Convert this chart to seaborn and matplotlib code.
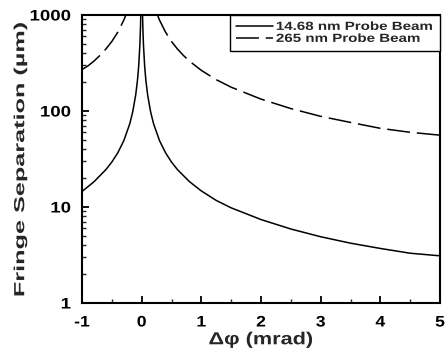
import matplotlib
matplotlib.use("Agg")
import matplotlib.pyplot as plt
import seaborn as sns
import pandas as pd
import numpy as np
from matplotlib.ticker import LogLocator, MultipleLocator, NullFormatter
from matplotlib.patheffects import AbstractPathEffect
from matplotlib.transforms import Affine2D

sns.set_theme(style="ticks")
plt.rcParams['font.family'] = ['Liberation Sans', 'DejaVu Sans']
plt.rcParams['font.weight'] = 'bold'
plt.rcParams['axes.unicode_minus'] = False

# 14.68 nm probe beam
xs_neg = [-1.0, -0.8, -0.6, -0.5, -0.4, -0.3, -0.2, -0.15, -0.1, -0.07, -0.05, -0.03, -0.02, -0.0147]
ys_neg = [14.5, 18.3, 24.5, 29.4, 36.7, 49.0, 73.4, 98.0, 147, 210, 294, 490, 734, 1000]
xs_pos = [0.0147, 0.02, 0.03, 0.05, 0.07, 0.1, 0.15, 0.2, 0.3, 0.4, 0.5, 0.6, 0.8, 1.0, 1.25, 1.5,
          2.0, 2.5, 3.0, 3.5, 4.0, 4.5, 5.0]
ys_pos = [1000, 734, 490, 294, 210, 147, 98.0, 73.4, 49.0, 36.7, 29.4, 24.5, 18.4, 14.7, 11.7, 9.8,
          7.4, 5.9, 4.9, 4.2, 3.7, 3.3, 3.1]

# 265 nm probe beam
xl_neg = [-1.0, -0.9, -0.8, -0.7, -0.6, -0.5, -0.4, -0.3, -0.265]
yl_neg = [270, 295, 331, 379, 442, 530, 663, 883, 1000]
xl_pos = [0.265, 0.3, 0.4, 0.5, 0.6, 0.7, 0.8, 1.0, 1.25, 1.5, 2.0, 2.5, 3.0, 3.5, 4.0, 4.5, 5.0]
yl_pos = [1000, 883, 663, 530, 442, 379, 331, 265, 212, 177, 133, 106, 88, 76, 66, 60, 56]

labels = ["14.68 nm Probe Beam", "265 nm Probe Beam"]
y_ticks = [1, 10, 100, 1000]
y_ticklabels = ["1", "10", "100", "1000"]


class Stretch(AbstractPathEffect):
    """Draw the text glyphs widened along the writing direction."""
    def __init__(self, sx, anchor=0.5):
        super().__init__()
        self.sx = sx
        self.anchor = anchor

    def draw_path(self, renderer, gc, tpath, affine, rgbFace=None):
        ext = tpath.get_extents()
        a = ext.x0 + self.anchor * (ext.x1 - ext.x0)
        pre = Affine2D().translate(-a, 0).scale(self.sx, 1).translate(a, 0)
        renderer.draw_path(gc, tpath, pre + affine, rgbFace)


df = pd.concat([
    pd.DataFrame({"x": xs_neg, "y": ys_neg, "beam": labels[0], "branch": "s-"}),
    pd.DataFrame({"x": xs_pos, "y": ys_pos, "beam": labels[0], "branch": "s+"}),
    pd.DataFrame({"x": xl_neg, "y": yl_neg, "beam": labels[1], "branch": "l-"}),
    pd.DataFrame({"x": xl_pos, "y": yl_pos, "beam": labels[1], "branch": "l+"}),
], ignore_index=True)

fig = plt.figure(figsize=(4.47, 3.58), dpi=100)
ax = fig.add_axes([82 / 447, 1 - 303 / 358, 358 / 447, 288 / 358])

sns.lineplot(data=df, x="x", y="y", style="beam", units="branch", estimator=None,
             sort=False, color="black", linewidth=1.1,
             dashes={labels[0]: "", labels[1]: (15, 4.5)}, ax=ax)

ax.set_yscale("log")
ax.set_xlim(-1, 5)
ax.set_ylim(1, 1000)
ax.set_yticks(y_ticks)
ax.set_yticklabels(y_ticklabels)
ax.yaxis.set_minor_locator(LogLocator(base=10, subs=np.arange(2, 10)))
ax.yaxis.set_minor_formatter(NullFormatter())
ax.xaxis.set_major_locator(MultipleLocator(1))
ax.xaxis.set_minor_locator(MultipleLocator(0.5))

for s in ax.spines.values():
    s.set_linewidth(1.5)
    s.set_color("black")
ax.tick_params(which="major", direction="in", length=5, width=1.3, labelsize=11, colors="black")
ax.tick_params(which="minor", direction="in", length=3, width=1.0)
ax.tick_params(axis="y", which="major", pad=8)
ax.tick_params(axis="x", which="major", pad=9)
for lab in ax.get_yticklabels():
    lab.set_fontweight("bold")
    lab.set_path_effects([Stretch(1.22, anchor=1.0)])
for lab in ax.get_xticklabels():
    lab.set_fontweight("bold")
    lab.set_path_effects([Stretch(1.15, anchor=0.5)])

ax.set_xlabel("Δφ (mrad)", fontsize=12.5, fontweight="bold", labelpad=2)
ax.xaxis.label.set_path_effects([Stretch(1.25, anchor=0.5)])
ax.set_ylabel("Fringe Separation (µm)", fontsize=10.5, fontweight="bold", labelpad=7)
ax.yaxis.label.set_path_effects([Stretch(1.73, anchor=0.5)])

leg = ax.legend(title=None, loc="upper left", mode="expand",
                bbox_to_anchor=((230 - 82) / 358, 0.0, (440 - 230) / 358, 1.0),
                fontsize=8.5, frameon=True, fancybox=False, borderaxespad=0.0,
                handlelength=3.1, handletextpad=0.3, labelspacing=0.0, borderpad=0.5)
leg.get_frame().set_edgecolor("black")
leg.get_frame().set_linewidth(1.0)
leg.get_frame().set_alpha(1)
for t in leg.get_texts():
    t.set_fontweight("bold")
    t.set_path_effects([Stretch(1.28, anchor=0.0)])

fig.savefig("out.png", dpi=100)
